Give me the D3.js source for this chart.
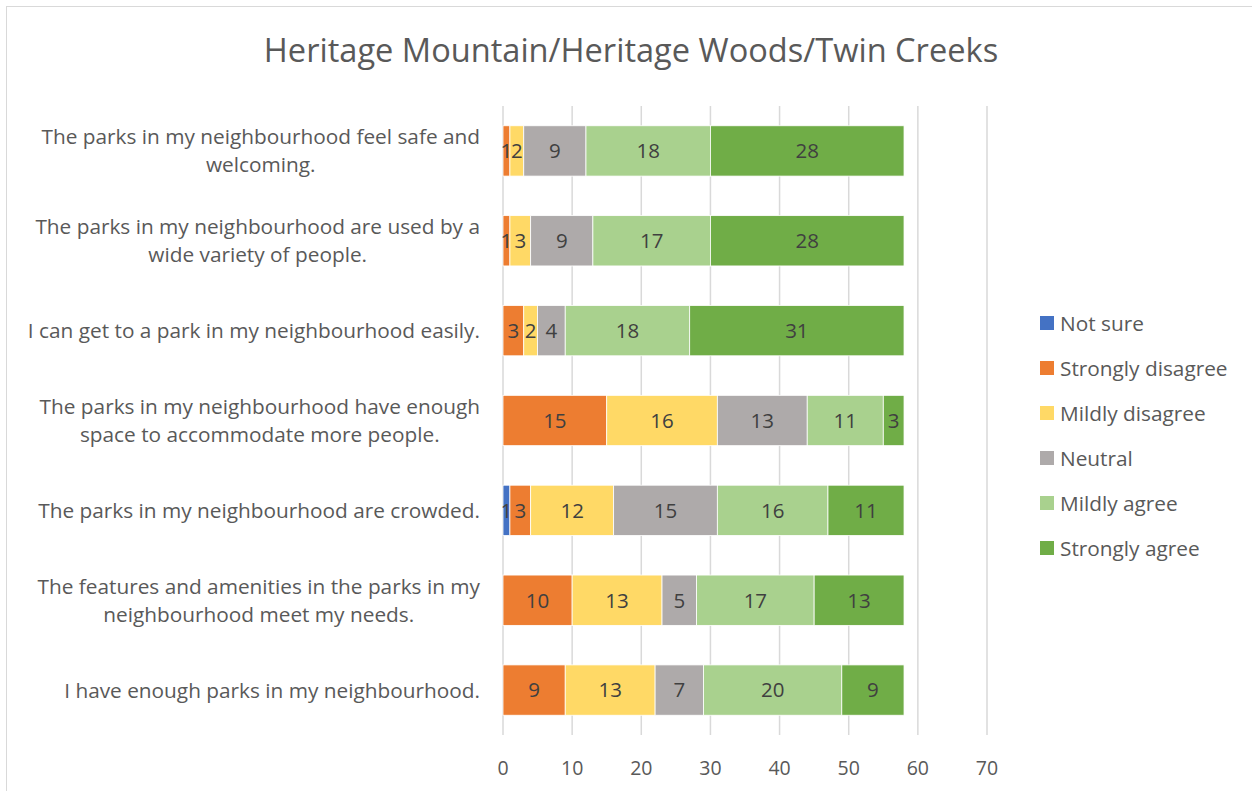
<!DOCTYPE html>
<html>
<head>
<meta charset="utf-8">
<script src="https://cdn.jsdelivr.net/npm/d3@7"></script>
<style>
  body { margin: 0; background: #fff; }
  text { font-family: "Open Sans", "Noto Sans", sans-serif; fill: #595959; }
</style>
</head>
<body>
<svg id="chart" width="1252" height="791"></svg>
<script>
// Survey statements, top to bottom (already wrapped the way the chart wraps them)
var questions = [
    ["The parks in my neighbourhood feel safe and", "welcoming."],
    ["The parks in my neighbourhood are used by a", "wide variety of people."],
    ["I can get to a park in my neighbourhood easily."],
    ["The parks in my neighbourhood have enough", "space to accommodate more people."],
    ["The parks in my neighbourhood are crowded."],
    ["The features and amenities in the parks in my", "neighbourhood meet my needs."],
    ["I have enough parks in my neighbourhood."]
];

var responses = ["Not sure", "Strongly disagree", "Mildly disagree", "Neutral", "Mildly agree", "Strongly agree"];
var colours = ["#4472C4", "#ED7D31", "#FFD966", "#AEAAAA", "#A9D18E", "#70AD47"];

// counts per response, same order as questions
var notSure          = [0, 0, 0, 0, 1, 0, 0];
var stronglyDisagree = [1, 1, 3, 15, 3, 10, 9];
var mildlyDisagree   = [2, 3, 2, 16, 12, 13, 13];
var neutral          = [9, 9, 4, 13, 15, 5, 7];
var mildlyAgree      = [18, 17, 18, 11, 16, 17, 20];
var stronglyAgree    = [28, 28, 31, 3, 11, 13, 9];

var xTicks = [0, 10, 20, 30, 40, 50, 60, 70];
var title = "Heritage Mountain/Heritage Woods/Twin Creeks";

var series = [notSure, stronglyDisagree, mildlyDisagree, neutral, mildlyAgree, stronglyAgree];

var rows = questions.map(function(q, i) {
    var row = {key: i, label: q};
    responses.forEach(function(r, j) { row[r] = series[j][i]; });
    return row;
});

var svg = d3.select("#chart");

// outer chart border (only top/left show in the picture)
svg.append("rect")
    .attr("x", 6.5).attr("y", 6.5)
    .attr("width", 1260).attr("height", 800)
    .attr("fill", "none")
    .attr("stroke", "#d9d9d9");

var x = d3.scaleLinear().domain([0, 70]).range([503, 987]);
var y = d3.scaleBand().domain(d3.range(questions.length)).range([106, 735]).paddingInner(0.44).paddingOuter(0.22);

// vertical gridlines
svg.append("g").selectAll("line")
    .data(xTicks)
    .enter().append("line")
    .attr("x1", function(d) { return x(d); })
    .attr("x2", function(d) { return x(d); })
    .attr("y1", 106).attr("y2", 735)
    .attr("stroke", "#d9d9d9")
    .attr("stroke-width", 1.5);

var stacked = d3.stack().keys(responses)(rows);

var layers = svg.append("g").selectAll("g")
    .data(stacked)
    .enter().append("g")
    .attr("fill", function(d, i) { return colours[i]; });

layers.selectAll("rect")
    .data(function(d) { return d; })
    .enter().append("rect")
    .attr("x", function(d) { return x(d[0]); })
    .attr("width", function(d) { return x(d[1]) - x(d[0]); })
    .attr("y", function(d) { return y(d.data.key); })
    .attr("height", y.bandwidth())
    .attr("stroke", "#fff")
    .attr("stroke-width", 0.8);

// value labels inside the segments (blank for zero)
layers.selectAll("text")
    .data(function(d) { return d.filter(function(s) { return s[1] - s[0] > 0; }); })
    .enter().append("text")
    .attr("x", function(d) { return (x(d[0]) + x(d[1])) / 2; })
    .attr("y", function(d) { return y(d.data.key) + y.bandwidth() / 2; })
    .attr("dy", "0.36em")
    .attr("text-anchor", "middle")
    .style("font-size", "20.5px")
    .style("fill", "#404040")
    .text(function(d) { return d[1] - d[0]; });

// x axis tick labels
svg.append("g").selectAll("text")
    .data(xTicks)
    .enter().append("text")
    .attr("x", function(d) { return x(d); })
    .attr("y", 768)
    .attr("dy", "0.36em")
    .attr("text-anchor", "middle")
    .style("font-size", "19.5px")
    .text(function(d) { return d; });

// category labels, each line centred on the block which is right aligned
var labelRight = 480, lineH = 28;
var cats = svg.append("g").selectAll("g")
    .data(rows)
    .enter().append("g");

cats.each(function(d) {
    var g = d3.select(this);
    var n = d.label.length;
    var cy = y(d.key) + y.bandwidth() / 2;
    var texts = g.selectAll("text")
        .data(d.label)
        .enter().append("text")
        .attr("y", function(l, i) { return cy + (i - (n - 1) / 2) * lineH; })
        .attr("dy", "0.36em")
        .attr("text-anchor", "middle")
        .style("font-size", "20.8px")
        .text(function(l) { return l; });
    var w = d3.max(texts.nodes(), function(t) { return t.getComputedTextLength(); });
    texts.attr("x", labelRight - w / 2);
});

// legend
var legend = svg.append("g").selectAll("g")
    .data(responses)
    .enter().append("g")
    .attr("transform", function(d, i) { return "translate(1040," + (323 + i * 45) + ")"; });

legend.append("rect")
    .attr("x", 0).attr("y", -7)
    .attr("width", 14).attr("height", 14)
    .attr("fill", function(d, i) { return colours[i]; });

legend.append("text")
    .attr("x", 20)
    .attr("dy", "0.36em")
    .style("font-size", "20.8px")
    .text(function(d) { return d; });

svg.append("text")
    .attr("x", 631)
    .attr("y", 50)
    .attr("dy", "0.36em")
    .attr("text-anchor", "middle")
    .style("font-size", "32.6px")
    .text(title);
</script>
</body>
</html>
